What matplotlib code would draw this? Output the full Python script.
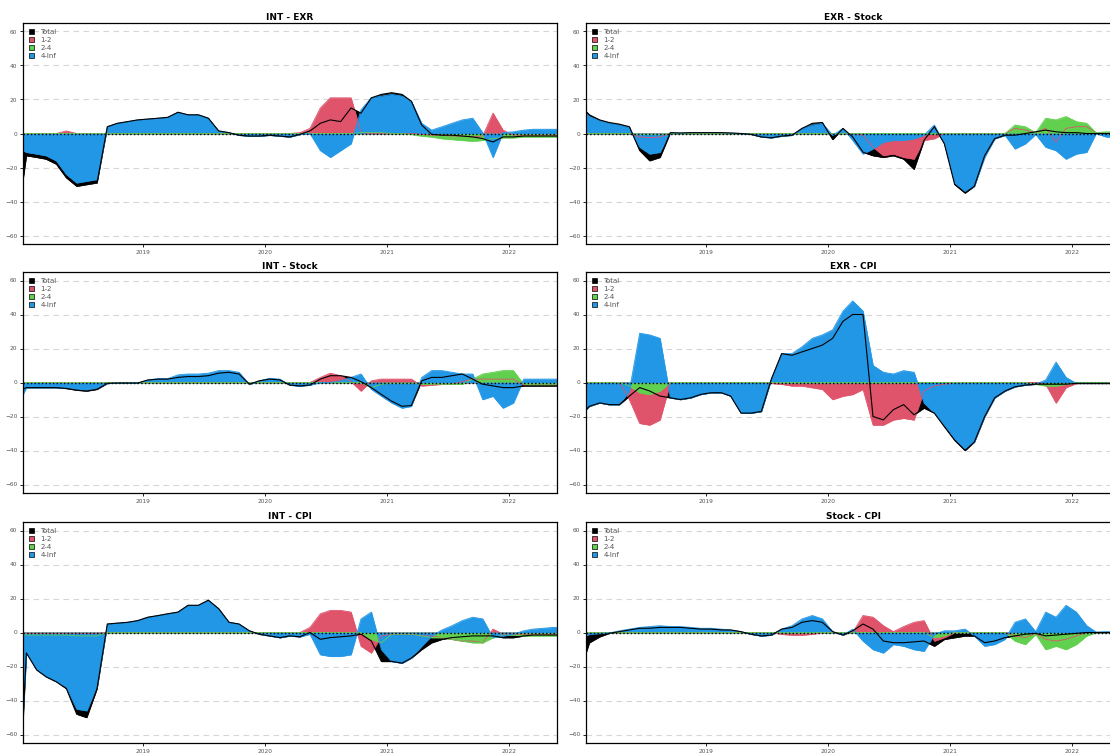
import pandas as pd
import matplotlib
matplotlib.use('Agg')
import matplotlib.pyplot as plt
import matplotlib.dates as mdates
from matplotlib.patches import Patch

# x grid: start, mid-month Jan 2018 .. May 2022, end
dates = pd.to_datetime(['2018-01-05'] +
                       list(pd.date_range('2018-01-01', '2022-05-01', freq='MS') + pd.Timedelta(days=14)) +
                       ['2022-05-26'])

bands = ['Total', '1-2', '2-4', '4-Inf']
colors = ['#000000', '#DF536B', '#61D04F', '#2297E6']

# ---- INT - EXR
int_exr_total = [-27,
    -13, -14, -15, -18, -26, -31, -30, -29, 4, 6, 7, 8,
    8.5, 9, 9.5, 12.5, 11, 11, 9, 1.5, 0.5, -1, -1.5, -1.5,
    -1, -1.5, -2, -0.5, 1.5, 6, 8, 7, 15, 12, 21, 23,
    24, 23, 19, 5, -0.5, -1, -1, -1.5, -2, -3, -5, -2,
    -2, -1.5, -1.5, -1.5, -1.5, -1.5]
int_exr_12 = [0,
    0, 0, 0, 0, 1.5, 0, 0, 0, 0, 0, 0, 0,
    0, 0, 0, 0, 0, 0, 0, 0, 0, 0, 0, 0,
    0, 0, 0, 0.5, 3, 15, 21, 21, 21, 0.5, 0, 0,
    0, 0, 0, -0.5, -1, -1, -1.5, -1.5, -2, -1.5, 12, 2,
    -1, -1, -1, -1, -1, -1]
int_exr_24 = [0,
    0, 0, 0, 0, 0, 0, 0, 0, 0, 0, 0, 0,
    0, 0, 0, 0, 0, 0, 0, 0, 0, 0, 0, 0,
    0, 0, 0, 0, 0, 0, 0, 0, 0, 0.5, 0.5, 0.5,
    0, 0, -0.5, -1.5, -2, -3, -3.5, -4, -4.5, -4, -3, -2.5,
    -2.5, -2, -2, -2, -2, -2]
int_exr_4inf = [-10,
    -11, -12, -13, -16, -24, -29, -28, -27, 4, 6, 7, 8,
    8.5, 9, 9.5, 12.5, 11, 11, 9, 1.5, 0.5, -1, -1.5, -1.5,
    -1, -1.5, -2, -0.5, 0, -10, -14, -10, -6, 14, 21, 22,
    23, 22, 19, 6, 2, 4, 6, 8, 9, 0.5, -14, 0.5,
    1, 2, 2.5, 2.5, 2.5, 2.5]

# ---- EXR - Stock
exr_stock_total = [13,
    11, 8, 6.5, 5.5, 4, -10, -16, -14, 0.5, 0.3, 0.5, 0.5,
    0.5, 0.5, 0.3, 0, -0.5, -2, -2.5, -1.5, -1, 3, 6, 6.5,
    -3.5, 3, -2, -11, -13, -14, -13, -15, -21, -4, 4, -6,
    -30, -35, -31, -13, -3, -1, -1, 0, 1, 2, 1, 0.5,
    0.5, 0, 0, 0, 0, 0]
exr_stock_12 = [0,
    0, 0, 0, 0, 0, -2, -2.5, -2, 0, 0, 0, 0,
    0, 0, 0, 0, 0, 0, 0, 0, 0, 0, 0, 0,
    0, 0, 0, -1, -8, -13, -12, -14, -15, -4, -3, 0,
    0, 0, 0, 0, 0, 0, 3, 2, 0.5, 3, -5, 3,
    4, 4, 0.5, 0, 0, 0]
exr_stock_24 = [0,
    0, 0, 0, 0, 0, -0.5, -0.5, -0.5, 0, 0, 0, 0,
    0, 0, 0, 0, 0, 0, 0, 0, 0, 0, 0, 0,
    0, 0, 0, 0, 0, 0, 0, 0, 0, 0, 0, 0,
    0, 0, 0, 0, 0, 0, 5, 4, 0.5, 9, 8, 10,
    7, 6, 0.5, 1, 1, 1]
exr_stock_4inf = [12,
    10, 7.5, 6, 5, 3.5, -8, -12, -11, 0.5, 0.3, 0.5, 0.5,
    0.5, 0.5, 0.3, 0, -0.5, -2, -2.5, -1.5, -1, 3, 5, 6,
    -1, 3, -4, -12, -9, -5, -4, -4, -3, -1, 5, -6,
    -29, -34, -31, -14, -3, -1, -9, -6, -0.5, -8, -10, -15,
    -12, -11, 0, -2, -2, -2]

# ---- INT - Stock
int_stock_total = [-4,
    -3, -3, -3, -3, -3.5, -4.5, -5, -4, -0.5, -0.3, -0.3, -0.3,
    1.5, 2, 2, 3, 3.5, 3.5, 4, 5.5, 6, 5, -1, 1,
    2, 1.5, -1.5, -2, -1.5, 2, 4, 4, 3, 0.5, -3, -7,
    -11, -14, -13.5, 1, 3, 3, 4, 5, 2, -1, -2, -3,
    -3, -2, -2, -2, -2, -2]
int_stock_12 = [0,
    0, 0, 0, 0, 0, 0, 0, 0, 0, 0, 0, 0,
    0, 0, 0, 0, 0, 0, 0, 0, 0, 0, 0, 0,
    0, 0, 0, 0, 0, 3, 5.5, 4, 0.5, -5, 1, 2,
    2, 2, 2, -2, -1.5, -1, -1, 0.5, 2, 2, 2, 2,
    2, -1.5, -1.5, -1.5, -1.5, -1.5]
int_stock_24 = [0,
    0, 0, 0, 0, 0, 0, 0, 0, 0, 0, 0, 0,
    0, 0, 0, 0, 0, 0, 0, 0, 0, 0, 0, 0,
    0, 0, 0, 0, 0, 0, 0, 0, 0, 0, -3, -1,
    -0.5, -0.5, -0.5, -1, -1, -1, -1, -1, 2, 5, 6, 7,
    7, -1, -1.5, -1.5, -1.5, -1.5]
int_stock_4inf = [-7,
    -3, -3, -3, -3, -3, -4, -4.5, -3.5, -0.5, -0.3, -0.3, -0.3,
    1.5, 2.3, 2.3, 4.5, 5, 5, 5.5, 7, 7, 6, -1, 1,
    2.5, 2, -1.5, -2, -1.5, 0, 0, 1, 3, 5, -4, -8,
    -12, -15, -14, 3, 7, 7, 6, 5, 5, -10, -8, -15,
    -12, 2, 2, 2, 2, 2]

# ---- EXR - CPI
exr_cpi_total = [-16,
    -14, -12, -13, -13, -8, -3, -5, -8, -9, -10, -9, -7,
    -6, -6, -8, -18, -18, -17, 2, 17, 16, 18, 20, 22,
    26, 36, 40, 40, -20, -22, -16, -13, -19, -15, -18, -26,
    -34, -40, -35, -20, -9, -5, -2.5, -1.5, -1, -1, -1, -1,
    -0.5, -0.5, -0.5, -0.5, -0.5, -0.5]
exr_cpi_12 = [0,
    0, 0, 0, 0, -10, -24, -25, -22, 0, 0, 0, 0,
    0, 0, 0, 0, 0, 0, -0.5, -1, -2, -2, -3, -4,
    -10, -8, -7, -4, -25, -25, -22, -21, -22, -5, -2, -1,
    0, 0, 0, 0, 0, 0, 0, 0, 0, -1, -12, -3,
    -0.5, -0.5, -0.5, -0.5, -0.5, -0.5]
exr_cpi_24 = [0,
    0, 0, 0, 0, -2, -6, -7, -5, 0, 0, 0, 0,
    0, 0, 0, 0, 0, 0, 0, 0, 0, 0, 0, 0,
    0, 0, 0, 0, 0, 0, 0, 0, 0, 0, 0, 0,
    0, 0, 0, 0, 0, 0, 0, 0, -1, -2, -2, -1,
    0, 0, 0, 0, 0, 0]
exr_cpi_4inf = [-16,
    -14, -12, -13, -13, -5, 29, 28, 26, -9, -10, -9, -7,
    -6, -6, -8, -18, -18, -17, 2, 17, 17, 21, 26, 28,
    31, 42, 48, 42, 10, 6, 5, 7, 6, -12, -18, -25,
    -33, -39, -35, -20, -9, -5, -2.5, -1.5, -1, 1.5, 12, 3,
    -0.5, -0.5, -0.5, -0.5, -0.5, -0.5]

# ---- INT - CPI
int_cpi_total = [-52,
    -12, -22, -26, -29, -33, -48, -50, -33, 5, 5.5, 6, 7,
    9, 10, 11, 12, 16, 16, 19, 14, 6, 5, 1, -1,
    -2, -3, -2, -2.5, 0, -4, -3, -2.5, -2, -1, -5, -17,
    -17, -18, -15, -10, -6, -4, -3, -2.5, -2, -2, -2, -3,
    -3, -2, -1.5, -1.5, -1.5, -1.5]
int_cpi_12 = [0,
    -0.5, -0.5, -0.5, -0.5, -0.5, -0.5, -0.5, -0.5, 0, 0, 0, 0,
    0, 0, 0, 0, 0, 0, 0, 0, 0, 0, 0, 0,
    0, 0, 0, 0, 3, 11, 13, 13, 12, -8, -12, -2,
    -1, -1, -1, -2, -2, -3, -4, -5, -5, -6, 2, -1,
    -1, -1, -1, -1, -1, -1]
int_cpi_24 = [-1,
    -1.5, -1.5, -1.5, -1.5, -1.5, -2, -2, -2, 0, 0, 0, 0,
    0, 0, 0, 0, 0, 0, 0, 0, 0, 0, 0, 0,
    0, 0, 0, 0, 0, 0, 0, 0, 0, 0, -4, -6,
    -1, -1, -1, -2, -3, -3, -4, -5, -6, -6, -3, -1.5,
    -1.5, -2, -2, -2, -2, -2]
int_cpi_4inf = [-48,
    -12, -22, -26, -29, -32, -45, -46, -32, 5, 5.5, 6, 7,
    9, 10, 11, 12, 16, 16, 19, 14, 6, 5, 1, -1,
    -2, -3, -2, -2.5, -1, -13, -14, -14, -13, 8, 12, -10,
    -17, -18, -15, -8, -2, 1.5, 4, 7, 9, 8, -3, -2,
    -1, 1, 2, 2.5, 3, 3]

# ---- Stock - CPI
stock_cpi_total = [-12,
    -6, -2.5, -0.5, 0.5, 1.5, 2.5, 2.5, 3, 3, 3, 2.5, 2,
    2, 1.5, 1.5, 0.5, -1, -2, -1.5, 2, 3, 6, 7, 6,
    0.5, -1.5, 1, 5, 2, -5, -6, -6, -5.5, -5, -8, -4,
    -3, -2, -2, -6, -5, -3, -2, -1, -0.5, -2, -1.5, -1,
    -0.5, 0, 0, 0, 0, 0]
stock_cpi_12 = [0,
    0, 0, 0, 0, 0, 0, 0, 0, 0, 0, 0, 0,
    0, 0, 0, 0, 0, 0, 0, -1, -1.5, -1.5, -1, 0,
    0, 0, 0, 10, 9, 4, 0.5, 3.5, 6, 7, -5, -3,
    0, 0, 0, 0, 0, 0, -2, -3, -0.5, -4, -5, -4,
    -2, 0, 0, 0, 0, 0]
stock_cpi_24 = [0,
    0, 0, 0, 0, 0, 0, 0, 0, 0, 0, 0, 0,
    0, 0, 0, 0, 0, 0, 0, 0, 0, 0, 0, 0,
    0, 0, 0, 0, 0, 0, 0, 0, 0, 0, -3, -2,
    0, 0, 0, 0, 0, 0, -5, -7, -1, -10, -8, -10,
    -7, -2, 0, 0, 0, 0]
stock_cpi_4inf = [-2,
    -1, -0.5, -0.3, 1, 2, 3, 3.5, 4, 3.5, 3.5, 3, 2.5,
    2.5, 2, 1.5, 0.5, -1, -2, -1.5, 2, 4, 8, 10, 8,
    0.5, -1.5, 2, -5, -10, -12, -7, -8, -10, -11, -1, 1,
    1, 2, -2, -8, -7, -4, 6, 8, 0.5, 12, 9, 16,
    12, 4, 0.3, 0.5, 0.5, 0.5]

panels = [
    ('INT - EXR', [int_exr_total, int_exr_12, int_exr_24, int_exr_4inf]),
    ('EXR - Stock', [exr_stock_total, exr_stock_12, exr_stock_24, exr_stock_4inf]),
    ('INT - Stock', [int_stock_total, int_stock_12, int_stock_24, int_stock_4inf]),
    ('EXR - CPI', [exr_cpi_total, exr_cpi_12, exr_cpi_24, exr_cpi_4inf]),
    ('INT - CPI', [int_cpi_total, int_cpi_12, int_cpi_24, int_cpi_4inf]),
    ('Stock - CPI', [stock_cpi_total, stock_cpi_12, stock_cpi_24, stock_cpi_4inf]),
]

W, H = 1110, 755
fig = plt.figure(figsize=(W / 100, H / 100), dpi=100)

lefts = [23, 586]
tops = [23, 272, 522]
pw, ph = 534, 221
txt_col = '#555555'

for i, (name, series) in enumerate(panels):
    row, col = i // 2, i % 2
    ax = fig.add_axes([lefts[col] / W, 1 - (tops[row] + ph) / H, pw / W, ph / H])

    # filled areas: total first, then the bands on top
    for s, c in zip(series, colors):
        ax.fill_between(dates, 0, s, facecolor=c, edgecolor=c, lw=0.4)
    for s, c in zip(series[1:], colors[1:]):
        ax.plot(dates, s, color=c, lw=0.6)
    ax.axhline(0, color='black', ls=':', lw=1.0)
    ax.plot(dates, series[0], color='black', lw=0.8)

    ax.set_xlim(dates[0], dates[-1])
    ax.set_ylim(-65, 65)
    ax.set_yticks(range(-60, 61, 20))
    ax.xaxis.set_major_locator(mdates.YearLocator())
    ax.xaxis.set_major_formatter(mdates.DateFormatter('%Y'))
    ax.yaxis.grid(True, ls=(0, (5, 4)), color='#d6d6d6', lw=0.8)
    ax.set_axisbelow(True)
    ax.tick_params(length=2.5, width=0.6, labelsize=4.2, labelcolor=txt_col, pad=1.5)
    for sp in ax.spines.values():
        sp.set_linewidth(0.9)
    ax.set_title(name, fontsize=6.5, fontweight='bold', pad=2.5)

    handles = [Patch(facecolor=c, edgecolor='black', lw=0.5) for c in colors]
    ax.legend(handles, bands, loc='upper left', frameon=False, fontsize=5,
              labelcolor=txt_col, handlelength=0.8, handleheight=0.8,
              labelspacing=0.3, handletextpad=0.9, borderaxespad=0.4)

fig.savefig('out.png', dpi=100)
